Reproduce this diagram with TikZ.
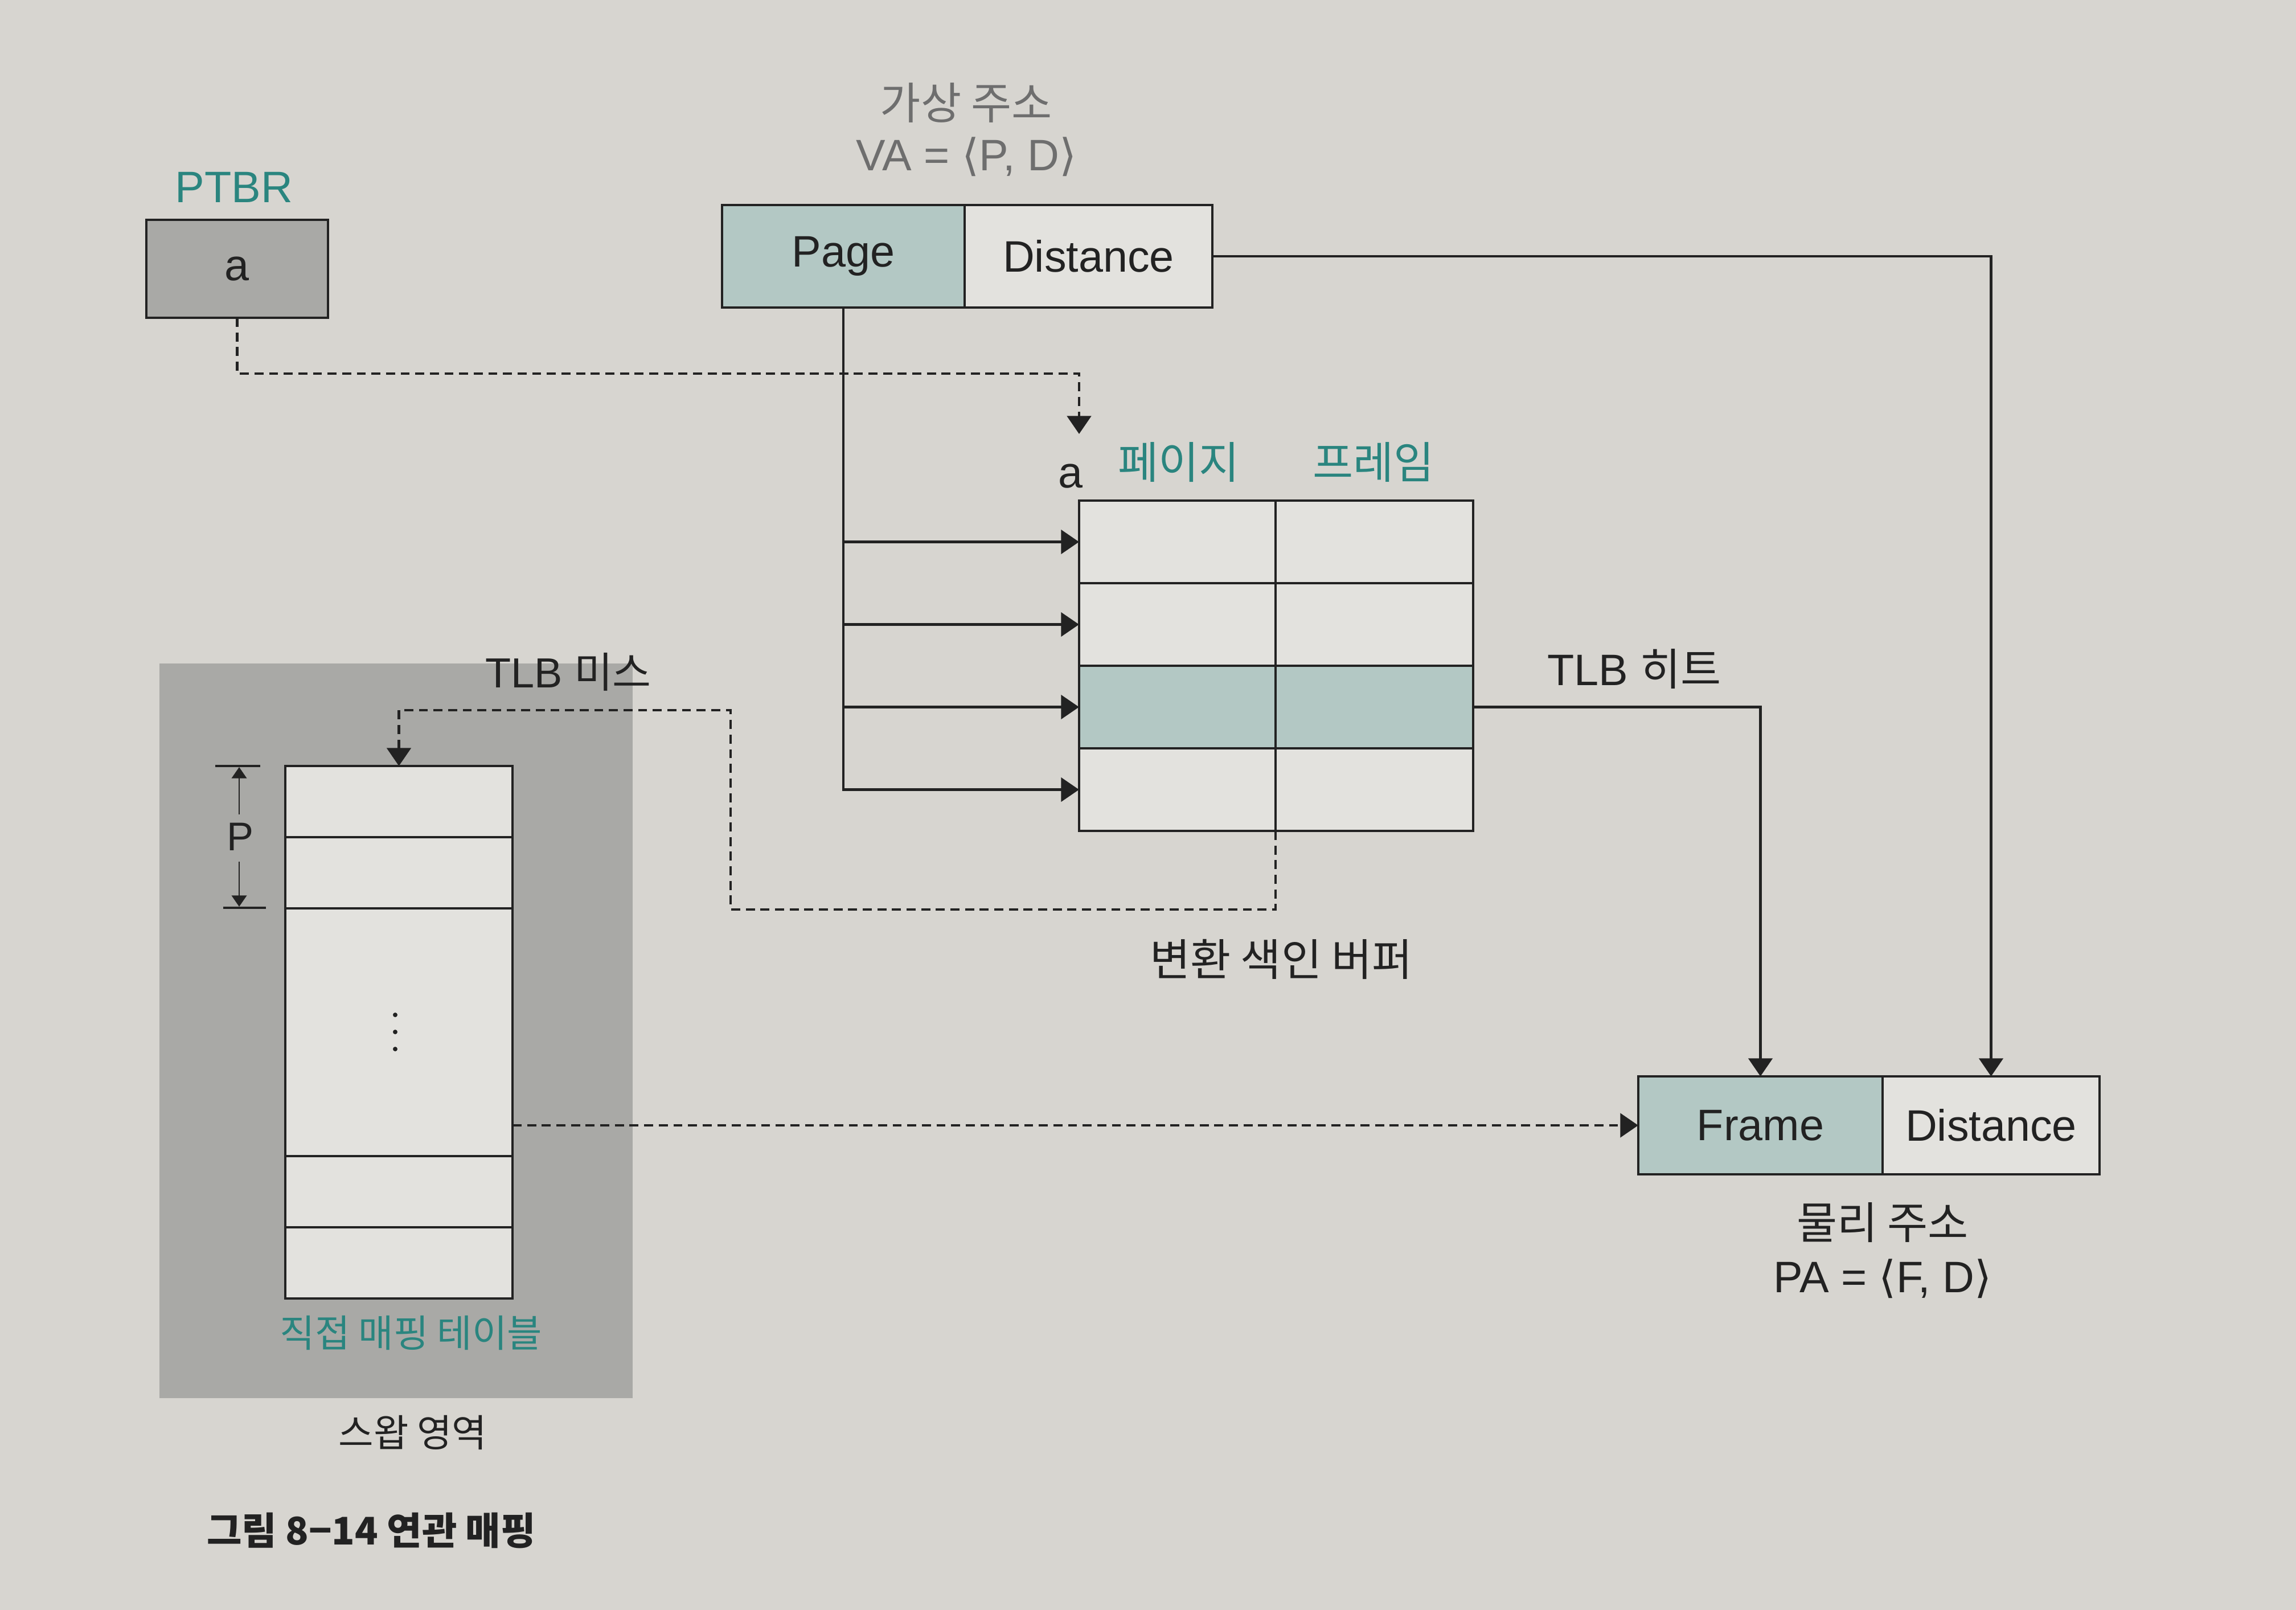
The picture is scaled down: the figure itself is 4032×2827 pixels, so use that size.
\documentclass[tikz,border=0pt]{standalone}
\usepackage{fontspec}
\setmainfont{Liberation Sans}
\newfontfamily\kr{Noto Sans CJK KR}
\newfontfamily\djv{DejaVu Sans}
\usetikzlibrary{arrows.meta}
\definecolor{paper}{HTML}{D7D5D0}
\definecolor{ink}{HTML}{222222}
\definecolor{tealt}{HTML}{2A857F}
\definecolor{tealf}{HTML}{B3C8C4}
\definecolor{cellf}{HTML}{E3E2DE}
\definecolor{swapg}{HTML}{A9A9A6}
\definecolor{fadet}{HTML}{6E6E6E}
\begin{document}
\begin{tikzpicture}[x=0.01cm,y=-0.01cm,
  every node/.style={inner sep=0pt,outer sep=0pt},
  fs/.style={font=\fontsize{22pt}{26pt}\selectfont,text=ink},
  sm/.style={font=\fontsize{19pt}{23pt}\selectfont},
  tl/.style={fs,text=tealt},
  fade/.style={fs,text=fadet},
  box/.style={draw=ink,line width=1.2pt,fs},
  ln/.style={draw=ink,line width=1.2pt},
  dsh/.style={draw=ink,line width=1.3pt,dash pattern=on 4.5pt off 2.8pt},
  arr/.style={-{Triangle[length=9pt,width=12pt]}},
  sarr/.style={-{Triangle[length=5.6pt,width=7.5pt]}}
]
\fill[paper] (0,0) rectangle (4032,2827);
\useasboundingbox (0,0) rectangle (4032,2827);

% swap area
\node[fill=swapg,minimum width=8.31cm,minimum height=12.9cm] (swap) at (695.5,1810) {};

% PTBR
\node[tl] (ptbrl) at (411,329) {PTBR};
\node[box,fill=swapg,minimum width=3.19cm,minimum height=1.72cm] (ptbr) at (416.5,472) {a};

% virtual address
\node[fade] (vat) at (1697,180) {\kr 가상 주소};
\node[fade] (vaf) at (1697,275) {VA = {\djv ⟨}P, D{\djv ⟩}};
\node[box,fill=tealf,minimum width=4.26cm,minimum height=1.8cm] (vp) at (1481,450) {Page};
\node[box,fill=cellf,minimum width=4.35cm,minimum height=1.8cm] (vd) at (1911.5,450) {Distance};

% TLB
\foreach \r/\y/\f in {1/951.5/cellf,2/1096.5/cellf,3/1241.5/tealf,4/1386.5/cellf}{
  \node[box,fill=\f,minimum width=3.45cm,minimum height=1.45cm] (t\r1) at (2067.5,\y) {};
  \node[box,fill=\f,minimum width=3.47cm,minimum height=1.45cm] (t\r2) at (2413.5,\y) {};
}
\node[fs] (alab) at (1880,836) {a};
\node[tl] (pgl) at (2070,812) {\kr 페이지};
\node[tl] (frl) at (2412,812) {\kr 프레임};
\node[fs] (tlbl) at (2250,1684) {\kr 변환 색인 버퍼};
\node[fs] (hitl) at (2870,1175) {TLB {\kr 히트}};
\node[fs,font=\fontsize{21pt}{25pt}\selectfont] (missl) at (998,1180) {TLB {\kr 미스}};

% direct mapping table
\node[box,fill=cellf,minimum width=3.99cm,minimum height=1.25cm] (d1) at (700.5,1407.5) {};
\node[box,fill=cellf,minimum width=3.99cm,minimum height=1.25cm] (d2) at (700.5,1532.5) {};
\node[box,fill=cellf,minimum width=3.99cm,minimum height=4.35cm] (d3) at (700.5,1812.5) {};
\node[box,fill=cellf,minimum width=3.99cm,minimum height=1.25cm] (d4) at (700.5,2092.5) {};
\node[box,fill=cellf,minimum width=3.99cm,minimum height=1.25cm] (d5) at (700.5,2217.5) {};
\foreach \yy in {1782,1812,1842}{\fill[ink] (694,\yy) circle (4);}
\node[tl,sm] (dml) at (722,2340) {\kr 직접 매핑 테이블};
\node[fs,sm] (swl) at (725,2515) {\kr 스왑 영역};
\node[fs,sm] (cap) at (652,2687) {\kr\bfseries 그림 8−14 연관 매핑};

% P dimension
\draw[ink,line width=1pt] (378,1345) -- (457,1345);
\draw[ink,line width=1pt] (392,1594) -- (467,1594);
\node[fs,font=\fontsize{20pt}{24pt}\selectfont] (plab) at (422,1469) {P};
\draw[ink,line width=0.8pt,sarr] (420,1430) -- (420,1347);
\draw[ink,line width=0.8pt,sarr] (420,1513) -- (420,1592);

% physical address
\node[box,fill=tealf,minimum width=4.29cm,minimum height=1.72cm] (pf) at (3091.5,1976) {Frame};
\node[box,fill=cellf,minimum width=3.81cm,minimum height=1.72cm] (pd) at (3496.5,1976) {Distance};
\node[fs] (pat) at (3306,2147) {\kr 물리 주소};
\node[fs] (paf) at (3306,2245) {PA = {\djv ⟨}F, D{\djv ⟩}};

% connectors
\draw[ln,arr] (vd.east) -| (pd.north);
\draw[ln,arr] (vp.south) |- (t41.west);
\foreach \r in {1,2,3}{\draw[ln,arr] (vp.south |- t\r1.west) -- (t\r1.west);}
\coordinate (pbend) at (1895,656);
\coordinate (pin) at (1895,762);
\draw[dsh,arr] (ptbr.south) |- (pbend) -- (pin);
\draw[ln,arr] (t32.east) -| (pf.north);
\coordinate (m1) at (1283,1597);
\coordinate (m2) at (1283,1247);
\draw[dsh,arr] (t41.south east) |- (m1) -- (m2) -| (d1.north);
\draw[dsh,arr] (d3.east |- pf.west) -- (pf.west);
\end{tikzpicture}
\end{document}
